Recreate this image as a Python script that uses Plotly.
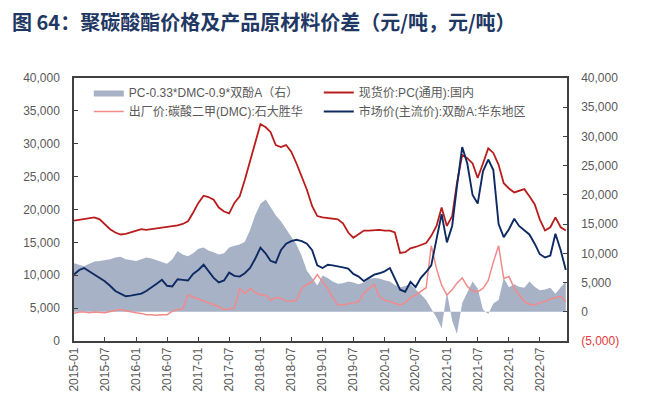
import pandas as pd
import plotly.graph_objects as go

dates = pd.date_range("2015-01-01", periods=96, freq="MS")

pc_spot = [18.3, 18.4, 18.5, 18.6, 18.8, 18.5, 17.8, 17.0, 16.5, 16.2, 16.3, 16.5,
           16.8, 17.0, 16.9, 17.0, 17.1, 17.2, 17.3, 17.4, 17.6, 17.8, 18.2, 19.5,
           21.0, 22.1, 21.9, 21.5, 20.3, 19.7, 19.4, 21.0, 22.0, 24.5, 27.5, 30.0,
           33.0, 32.5, 31.8, 29.8, 29.5, 29.8, 28.8, 27.0, 25.0, 23.0, 20.5, 19.0,
           18.8, 18.7, 18.5, 18.5, 17.9, 16.5, 15.7, 16.2, 16.8, 16.8, 16.9, 16.9,
           16.8, 16.8, 16.5, 13.4, 13.5, 14.1, 14.3, 14.6, 14.9, 16.0, 17.5, 20.3,
           17.5, 19.0, 24.0, 28.3, 27.8, 27.0, 24.8, 27.0, 29.3, 28.6, 26.8, 24.0,
           23.2, 22.6, 22.8, 23.1, 22.0, 20.8, 18.5, 16.8, 17.3, 18.8, 17.3, 16.8]

bpa = [10.1, 10.8, 11.1, 10.6, 10.1, 9.6, 9.1, 8.4, 7.6, 7.2, 6.8, 6.9,
       7.0, 7.2, 7.6, 8.1, 8.7, 9.3, 8.4, 8.3, 9.4, 9.3, 9.2, 10.2,
       10.8, 11.6, 10.6, 9.6, 8.9, 9.2, 10.4, 9.9, 9.8, 10.3, 11.1, 12.5,
       14.2, 13.3, 12.2, 11.9, 13.8, 14.8, 15.2, 15.4, 15.2, 14.8, 13.8, 11.5,
       11.1, 11.6, 11.5, 11.4, 11.2, 11.0, 10.2, 9.8, 9.1, 9.6, 10.1, 10.3,
       10.6, 11.1, 9.4, 7.8, 7.5, 9.0, 8.2, 9.6, 10.5, 11.5, 15.5, 19.3,
       15.0, 17.5, 23.5, 29.5, 27.0, 22.2, 20.9, 25.8, 27.6, 26.0, 17.8, 15.8,
       17.0, 18.6, 17.5, 16.8, 16.2, 14.8, 13.2, 12.7, 13.0, 16.3, 13.8, 10.8]

dmc = [4.2, 4.4, 4.4, 4.3, 4.4, 4.3, 4.3, 4.5, 4.7, 4.8, 4.6, 4.4,
       4.3, 4.2, 4.0, 4.0, 3.9, 4.0, 4.0, 4.5, 4.8, 4.9, 7.0, 6.7,
       6.4, 6.0, 5.8, 5.5, 5.2, 4.8, 4.9, 5.0, 8.0, 7.2, 8.0, 7.4,
       7.0, 7.0, 6.2, 6.6, 6.5, 6.1, 6.0, 6.2, 8.0, 8.6, 9.0, 10.1,
       9.0, 8.0, 6.6, 5.5, 5.5, 5.6, 5.8, 6.0, 7.3, 8.0, 8.6, 6.8,
       6.2, 6.0, 5.8, 5.5, 5.8, 6.6, 7.0, 7.6, 8.1, 14.5, 11.0, 8.5,
       7.0, 7.8, 8.8, 9.6, 8.3, 7.6, 7.5, 8.0, 9.2, 12.0, 14.5, 9.5,
       9.8, 8.0, 7.0, 6.0, 5.6, 5.5, 5.8, 6.0, 6.4, 6.6, 6.8, 6.0]

spread = [8.3, 8.0, 7.8, 8.2, 8.6, 8.7, 8.8, 9.0, 9.3, 9.4, 9.0, 8.8,
          8.7, 9.0, 9.3, 9.1, 8.8, 8.4, 8.2, 9.0, 10.4, 9.8, 9.5, 10.0,
          10.8, 11.0, 10.5, 10.2, 9.8, 10.0, 11.0, 11.3, 11.5, 12.0, 14.0, 16.5,
          18.5, 19.2, 17.8, 16.5, 15.5, 14.2, 13.0, 11.5, 9.5, 7.0, 5.8, 4.5,
          6.2, 5.8, 5.2, 4.8, 4.9, 5.2, 5.0, 4.7, 5.0, 5.6, 5.8, 5.7,
          5.4, 5.2, 4.6, 4.2, 4.4, 4.7, 3.8, 3.0, 2.0, 0.5, -1.0, -2.8,
          3.4, -1.5, -3.8, 1.5, 3.4, 5.2, 4.0, 0.4, -0.4, 1.4, 2.0, 5.8,
          4.2, 4.7, 4.3, 4.1, 5.2, 4.3, 3.7, 3.8, 4.1, 3.1, 4.2, 5.2]

tick_dates = pd.date_range("2015-01-01", "2022-07-01", freq="6MS")
tick_labels = [d.strftime("%Y-%m") for d in tick_dates]

left_vals = list(range(0, 40001, 5000))
right_vals = list(range(-5000, 40001, 5000))
right_text = ['<span style="color:#E0393E">(5,000)</span>'] + [f"{v:,}" for v in right_vals[1:]]

names = ["PC-0.33*DMC-0.9*双酚A（右）", "现货价:PC(通用):国内",
         "出厂价:碳酸二甲(DMC):石大胜华", "市场价(主流价):双酚A:华东地区"]

k = 1000
fig = go.Figure()
fig.add_trace(go.Scatter(x=dates, y=[v * k for v in spread], name=names[0], mode="lines",
                         line=dict(width=0, color="#A7B2C7"), fill="tozeroy",
                         fillcolor="#A7B2C7", xaxis="x", yaxis="y"))
fig.add_trace(go.Scatter(x=dates, y=[v * k for v in pc_spot], name=names[1], mode="lines",
                         line=dict(width=1.8, color="#B91C1C"), xaxis="x", yaxis="y2"))
fig.add_trace(go.Scatter(x=dates, y=[v * k for v in dmc], name=names[2], mode="lines",
                         line=dict(width=1.5, color="#F28A8A"), xaxis="x", yaxis="y2"))
fig.add_trace(go.Scatter(x=dates, y=[v * k for v in bpa], name=names[3], mode="lines",
                         line=dict(width=1.9, color="#0E2A63"), xaxis="x", yaxis="y2"))

W, H = 639, 396  # page body has an 8px default margin
axis_font = dict(family="Liberation Sans, Noto Sans CJK SC", size=12, color="#595959")
fig.update_layout(
    width=W, height=H,
    margin=dict(l=66, r=80, t=70, b=63),
    paper_bgcolor="white", plot_bgcolor="white",
    title=dict(text="图 64：聚碳酸酯价格及产品原材料价差（元/吨，元/吨）",
               x=4 / W, xanchor="left", xref="container",
               y=1 - 15 / H, yanchor="middle", yref="container",
               font=dict(family="Noto Sans CJK SC", size=20, color="#1F3864", weight="bold")),
    xaxis=dict(type="date", range=["2015-01-01", "2022-12-08"],
               tickvals=tick_dates, ticktext=tick_labels, tickangle=-90,
               ticks="inside", ticklen=4, tickcolor="#404040",
               showline=True, linecolor="#404040", linewidth=1.5, mirror=True,
               showgrid=False, zeroline=False, tickfont=axis_font, automargin=False),
    yaxis=dict(range=[-5000, 40000], side="right", tickvals=right_vals, ticktext=right_text,
               ticks="inside", ticklen=4, tickcolor="#404040",
               showline=True, linecolor="#404040", linewidth=1.5,
               showgrid=False, zeroline=False, tickfont=axis_font, ticklabelstandoff=10,
               automargin=False),
    yaxis2=dict(range=[0, 40000], side="left", overlaying="y", tickvals=left_vals,
                tickformat=",d", ticks="inside", ticklen=4, tickcolor="#404040",
                showline=True, linecolor="#404040", linewidth=1.5,
                showgrid=False, zeroline=False, tickfont=axis_font, ticklabelstandoff=10,
                automargin=False),
    legend=dict(orientation="h", x=0.03, y=1.0, xanchor="left", yanchor="top",
                entrywidth=185, entrywidthmode="pixels", tracegroupgap=0,
                bgcolor="rgba(0,0,0,0)",
                font=dict(family="Liberation Sans, Noto Sans CJK SC", size=12, color="#595959")),
    showlegend=True,
)

fig.write_html("out.html")
